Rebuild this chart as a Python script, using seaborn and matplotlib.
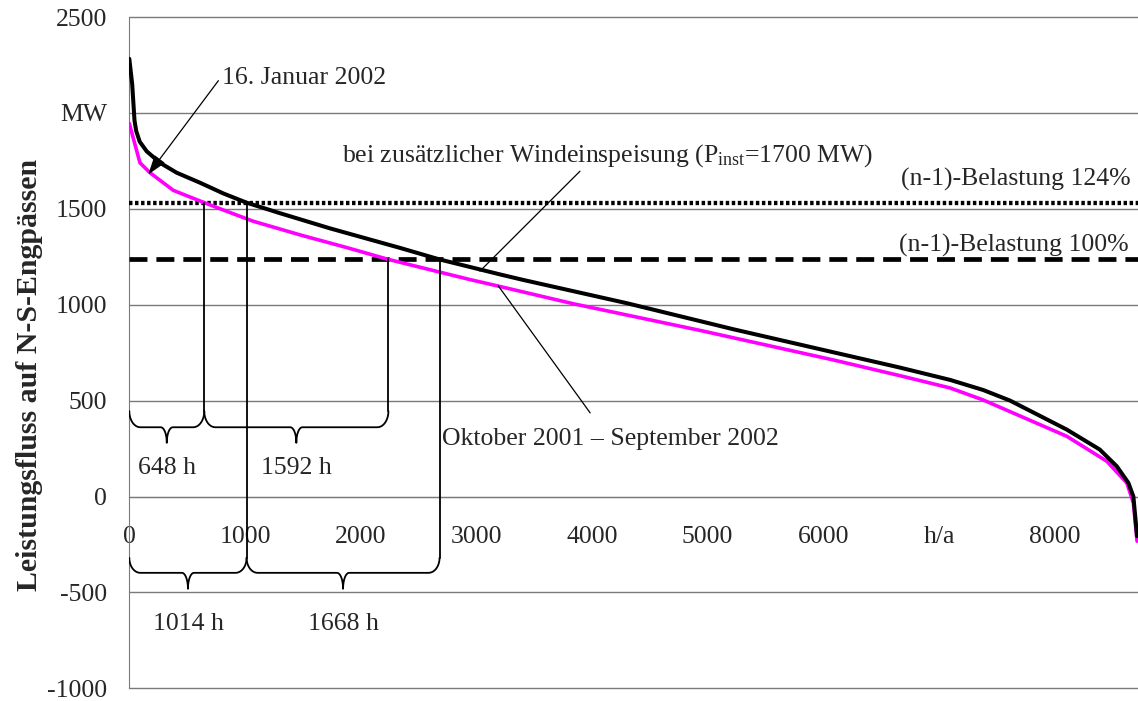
import numpy as np
import pandas as pd
import matplotlib.pyplot as plt
import seaborn as sns

# Load duration curves, hours per year vs. MW
hours_wind = [0, 25, 45, 60, 90, 150, 265, 410, 611, 813, 1014, 1303, 1735, 2341, 2682,
              3204, 3406, 4300, 5222, 6086, 6663, 7095, 7383, 7614, 8104, 8389, 8536, 8637, 8680, 8712]
mw_wind = [2282, 2150, 1960, 1905, 1850, 1800, 1740, 1688, 1636, 1580, 1532, 1477, 1398, 1296, 1236,
           1158, 1129, 1008, 872, 752, 672, 608, 555, 500, 349, 245, 158, 71, 0, -207]

hours_hist = [0, 92, 179, 381, 648, 842, 1072, 1476, 1879, 2240, 2945, 3190, 3838, 4934,
              6086, 6662, 7095, 7383, 8104, 8450, 8623, 8680, 8712]
mw_hist = [1945, 1740, 1688, 1596, 1532, 1487, 1435, 1364, 1298, 1236, 1131, 1097, 1005, 866,
           712, 630, 566, 503, 314, 184, 71, -33, -233]

# (n-1) limits and crossing hours
limit_100 = 1236
limit_124 = 1532
hist_hours = [648, 1592]   # magenta curve above 124% / between 100% and 124%
wind_hours = [1014, 1668]  # black curve

x_ticks = [0, 1000, 2000, 3000, 4000, 5000, 6000, 7000, 8000]
x_labels = ['0', '1000', '2000', '3000', '4000', '5000', '6000', 'h/a', '8000']
y_ticks = [-1000, -500, 0, 500, 1000, 1500, 2000, 2500]
y_labels = ['-1000', '-500', '0', '500', '1000', '1500', 'MW', '2500']

sns.set_style("white")
plt.rcParams['font.family'] = ['Liberation Serif', 'DejaVu Serif']
plt.rcParams['mathtext.fontset'] = 'custom'
plt.rcParams['mathtext.rm'] = 'Liberation Serif'
plt.rcParams['mathtext.it'] = 'Liberation Serif:italic'

FS = 18.5
GRID = '#7a7a7a'

fig = plt.figure(figsize=(11.38, 7.01), dpi=100)
ax = fig.add_axes([129.3 / 1138, 1 - 688.3 / 701, (1138 - 129.3) / 1138, 671.3 / 701])

df_wind = pd.DataFrame({'h': hours_wind, 'MW': mw_wind})
df_hist = pd.DataFrame({'h': hours_hist, 'MW': mw_hist})
sns.lineplot(data=df_hist, x='h', y='MW', color='#ff00ff', lw=2.6, sort=False, estimator=None, ax=ax, zorder=4)
sns.lineplot(data=df_wind, x='h', y='MW', color='black', lw=2.9, sort=False, estimator=None, ax=ax, zorder=5)

ax.set_xlim(0, 8720)
ax.set_ylim(-1000, 2500)

# grid + axes
ax.grid(False)
for v in y_ticks:
    ax.axhline(v, color=GRID, lw=1.0, zorder=1, clip_on=False)
for s in ['top', 'right']:
    ax.spines[s].set_visible(False)
ax.spines['left'].set_color(GRID)
ax.spines['bottom'].set_position(('data', 0))
ax.spines['bottom'].set_color(GRID)

ax.set_xticks(x_ticks)
ax.set_xticklabels(x_labels, fontsize=FS)
ax.set_yticks(y_ticks)
ax.set_yticklabels(y_labels, fontsize=FS)
ax.tick_params(axis='x', direction='out', length=5, width=1, color=GRID, pad=16)
ax.tick_params(axis='y', direction='out', length=5.8, width=1, color=GRID, pad=10)
ax.set_xlabel('')
ax.set_ylabel('Leistungsfluss auf N-S-Engpässen', fontsize=21.5, fontweight='bold')
ax.yaxis.set_label_coords(-0.0856, 0.4667)

# limit lines
ax.axhline(limit_124, color='black', lw=3.1, ls=(0, (0.8, 0.6)), dash_capstyle='butt', zorder=3)
ax.axhline(limit_100, color='black', lw=3.4, ls=(0, (3.8, 1.9)), dash_capstyle='butt', zorder=3)
ax.text(8660, 1620, '(n-1)-Belastung 124%', fontsize=FS, ha='right', va='baseline')
ax.text(8640, 1278, '(n-1)-Belastung 100%', fontsize=FS, ha='right', va='baseline')


# curly brace below an interval
def brace(x0, x1, y_top, y_mid, y_tip, rx=95, tw=52):
    t = np.linspace(0, np.pi / 2, 12)
    xm = (x0 + x1) / 2
    ry = y_top - y_mid
    xs = list(x0 + rx - rx * np.cos(t))
    ys = list(y_top - ry * np.sin(t))
    xs += list(xm - tw + tw * np.sin(t))
    ys += list(y_tip + (y_mid - y_tip) * np.cos(t))
    xs += list(xm + tw - tw * np.cos(t))
    ys += list(y_tip + (y_mid - y_tip) * np.sin(t))
    xs += list(x1 - rx + rx * np.sin(t))
    ys += list(y_top - ry * np.cos(t))
    return xs, ys


bl = dict(color='black', lw=1.3, zorder=6)

# upper braces: magenta curve
h1 = hist_hours[0]
h2 = hist_hours[0] + hist_hours[1]
ax.plot([h1, h1], [limit_124, 445], **bl)
ax.plot([h2, h2], [limit_100, 445], **bl)
for a, b in [(0, h1), (h1, h2)]:
    xs, ys = brace(a, b, 445, 361, 280)
    ax.plot(xs, ys, **bl)
    ax.text((a + b) / 2, 115, f'{b - a} h', fontsize=FS, ha='center', va='baseline')

# lower braces: black curve
w1 = wind_hours[0]
w2 = wind_hours[0] + wind_hours[1]
ax.plot([w1, w1], [limit_124, -320], **bl)
ax.plot([w2, w2], [limit_100, -320], **bl)
for a, b in [(0, w1), (w1, w2)]:
    xs, ys = brace(a, b, -320, -398, -481)
    ax.plot(xs, ys, **bl)
    ax.text((a + b) / 2, -697, f'{b - a} h', fontsize=FS, ha='center', va='baseline')

# annotations
ax.text(799, 2153, '16. Januar 2002', fontsize=FS, ha='left', va='baseline')
ax.annotate('', xy=(164, 1679), xytext=(770, 2168),
            arrowprops=dict(arrowstyle='-|>,head_length=0.6,head_width=0.2', color='black',
                            lw=0.9, mutation_scale=20, shrinkA=0, shrinkB=0), zorder=7)

ax.text(1839, 1745, r'bei zusätzlicher Windeinspeisung (P$_{\mathregular{inst}}$=1700 MW)',
        fontsize=FS, ha='left', va='baseline')
ax.plot([3896, 3031], [1696, 1175], color='black', lw=0.9, zorder=7)

ax.text(2701, 271, 'Oktober 2001 – September 2002', fontsize=FS, ha='left', va='baseline')
ax.plot([3190, 3984], [1098, 436], color='black', lw=0.9, zorder=7)

plt.savefig('out.png', dpi=100)
